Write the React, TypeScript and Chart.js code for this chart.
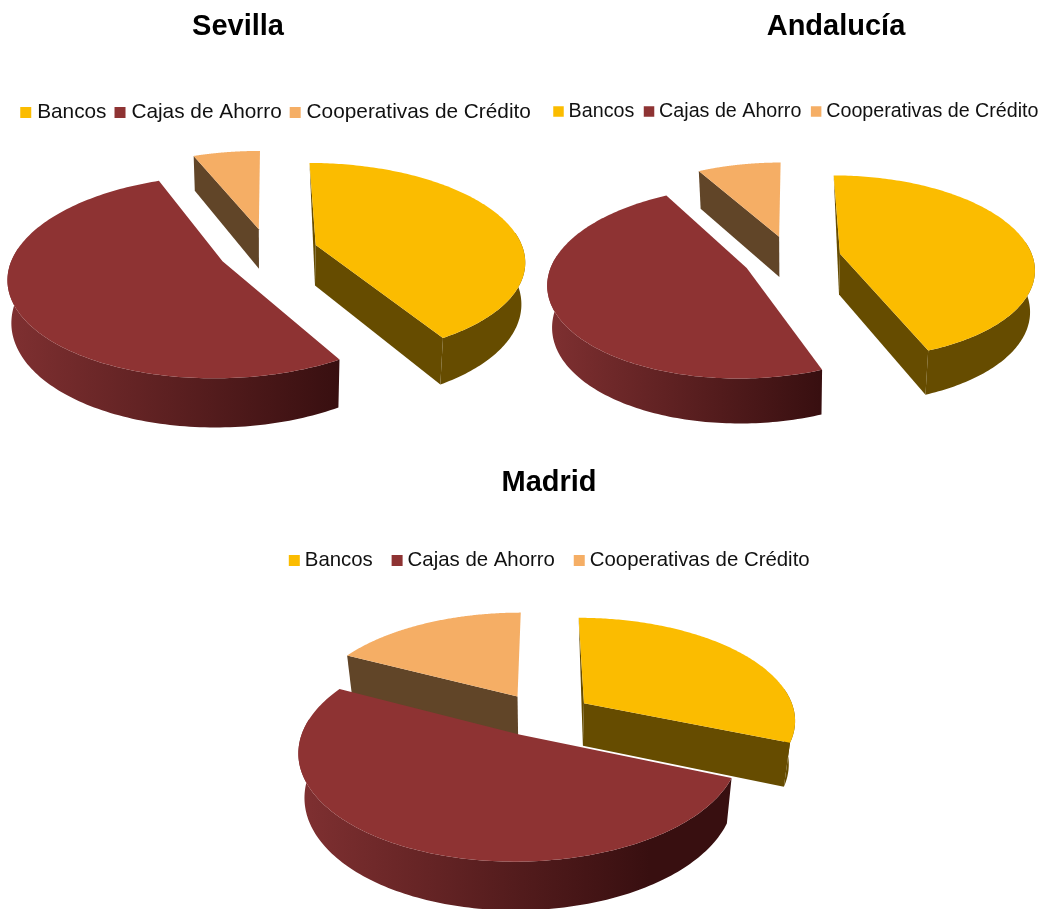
import React, { useEffect, useRef } from "react";
import { Chart, registerables } from "chart.js";

Chart.register(...registerables);

const categories = ["Bancos", "Cajas de Ahorro", "Cooperativas de Crédito"];
const sevillaValues = [41.5, 52.4, 6.1];
const andaluciaValues = [44.1, 47.7, 8.2];
const madridValues = [31.2, 51.3, 17.5];

const topColors = ["#FBBC00", "#8E3333", "#F5AE65"];
const wallColors = ["#664C00", null, "#614528"];

const panels = [
  { title: "Sevilla", values: sevillaValues, left: 0, top: 0, width: 540, height: 445,
    titleCx: 238, titleCy: 26.5, legendX: 18.5, legendCy: 112.5, font: 20.8, box: 11, boxW: 2, pad: 12.5,
    cx: 268, cy: 251, rx: 208, ry: 96, k: 0.15, kd: 0.15, e: [0.24, 0.24, 0.24], nudge: [0, 0, 0], depth: 41, shrink: 0.985, gradL: 8, gradR: 338 },
  { title: "Andalucía", values: andaluciaValues, left: 530, top: 0, width: 513, height: 445,
    titleCx: 306, titleCy: 26.5, legendX: 21, legendCy: 111.5, font: 19.7, box: 10.5, boxW: 0.5, pad: 14.5,
    cx: 791, cy: 258, rx: 193, ry: 91, k: 0.148, kd: 0.08, e: [0.26, 0.25, 0.25], nudge: [0, 0, 0], depth: 41, shrink: 0.98, gradL: 548, gradR: 820 },
  { title: "Madrid", values: madridValues, left: 200, top: 460, width: 700, height: 449,
    titleCx: 349, titleCy: 22.5, legendX: 82, legendCy: 100.5, font: 20.4, box: 11, boxW: 0.6, pad: 24,
    cx: 543, cy: 716.5, rx: 212, ry: 102, k: 0.15, kd: 0.1, e: [0.237, 0.19, 0.237], nudge: [0, -0.03, 0], depth: 43, shrink: 0.975, gradL: 300, gradR: 650 },
];

const pie3d = {
  id: "pie3d",
  afterLayout(chart: any, _a: any, o: any) {
    const t = chart.titleBlock;
    const h = t.bottom - t.top;
    const w = t.right - t.left;
    t.left = o.titleCx - w / 2;
    t.right = o.titleCx + w / 2;
    t.top = o.titleCy - h / 2;
    t.bottom = o.titleCy + h / 2;
    const l = chart.legend;
    const lw = l.right - l.left;
    const natural = l.lineWidths[0];
    l.left = o.legendX - (lw - natural) / 2;
    l.right = l.left + lw;
    const ht = l.bottom - l.top;
    l.top = o.legendCy - o.pad - o.font / 2;
    l.bottom = l.top + ht;
  },
  beforeDatasetsDraw(chart: any, _a: any, o: any) {
    const ctx = chart.ctx;
    const arcs = chart.getDatasetMeta(0).data;
    const ox = o.left;
    const oy = o.top;
    const project = (u: number, v: number, low: boolean) => {
      const w = 1 - o.k * v;
      const dx = (o.rx * u) / w;
      const dy = (o.ry * v) / w;
      return low
        ? [o.cx - ox + dx * o.shrink, o.cy - oy + dy + o.depth / (1 - o.kd * v)]
        : [o.cx - ox + dx, o.cy - oy + dy];
    };
    const poly = (pts: number[][], fill: any) => {
      ctx.beginPath();
      pts.forEach((p, i) => (i ? ctx.lineTo(p[0], p[1]) : ctx.moveTo(p[0], p[1])));
      ctx.closePath();
      ctx.fillStyle = fill;
      ctx.fill();
    };
    const order = arcs
      .map((arc: any, i: number) => ({ arc, i, mid: (arc.startAngle + arc.endAngle) / 2 }))
      .sort((a: any, b: any) => Math.sin(a.mid) - Math.sin(b.mid));
    for (const { arc, i, mid } of order) {
      const ou = o.e[i] * Math.cos(mid) + o.nudge[i];
      const ov = o.e[i] * Math.sin(mid);
      const steps = 160;
      const angles: number[] = [];
      for (let s = 0; s <= steps; s++) {
        angles.push(arc.startAngle + ((arc.endAngle - arc.startAngle) * s) / steps);
      }
      const at = (a: number, low: boolean) => project(ou + Math.cos(a), ov + Math.sin(a), low);
      const topRim = angles.map((a) => at(a, false));
      const near = angles.filter((a) => Math.sin(a) > -0.15);
      const apexTop = project(ou, ov, false);
      const apexLow = project(ou, ov, true);
      let wall: any = wallColors[i];
      if (!wall) {
        wall = ctx.createLinearGradient(o.gradL - ox, 0, o.gradR - ox, 0);
        wall.addColorStop(0, "#7F3031");
        wall.addColorStop(1, "#380F10");
      }
      const cs = Math.cos(arc.startAngle);
      if (Math.abs(cs) < 0.02) {
        poly([apexTop, at(arc.startAngle, false), apexLow], wall);
      } else if (cs < 0) {
        poly([apexTop, at(arc.startAngle, false), at(arc.startAngle, true), apexLow], wall);
      }
      if (Math.cos(arc.endAngle) > 0.02) {
        poly([apexTop, at(arc.endAngle, false), at(arc.endAngle, true), apexLow], wall);
      }
      if (near.length > 1) {
        poly(
          [...near.map((a) => at(a, false)), ...near.slice().reverse().map((a) => at(a, true))],
          wall
        );
      }
      poly([apexTop, ...topRim], topColors[i]);
    }
    return false;
  },
};

function Panel({ p }: { p: (typeof panels)[number] }) {
  const ref = useRef<HTMLCanvasElement>(null);
  useEffect(() => {
    const chart = new Chart(ref.current as HTMLCanvasElement, {
      type: "pie",
      data: {
        labels: categories,
        datasets: [{ data: p.values, backgroundColor: topColors, borderWidth: 0 }],
      },
      plugins: [pie3d as any],
      options: {
        responsive: false,
        animation: false,
        events: [],
        plugins: {
          title: {
            display: true,
            text: p.title,
            color: "#000000",
            padding: 0,
            font: { family: "Liberation Sans", size: 29, weight: "bold" },
          },
          legend: {
            display: true,
            position: "top",
            labels: {
              usePointStyle: true,
              pointStyle: "rect",
              boxWidth: p.boxW,
              boxHeight: p.box,
              padding: p.pad,
              color: "#111111",
              font: { family: "Liberation Sans", size: p.font },
            },
          },
          tooltip: { enabled: false },
          pie3d: { ...p, left: p.left, top: p.top },
        } as any,
      },
    });
    return () => chart.destroy();
  }, [p]);
  return (
    <canvas
      ref={ref}
      width={p.width}
      height={p.height}
      style={{ position: "absolute", left: p.left, top: p.top, width: p.width, height: p.height }}
    />
  );
}

export default function App() {
  return (
    <div style={{ position: "absolute", left: 0, top: 0, width: 1043, height: 909, background: "#fff", overflow: "hidden" }}>
      {panels.map((p) => (
        <Panel key={p.title} p={p} />
      ))}
    </div>
  );
}
